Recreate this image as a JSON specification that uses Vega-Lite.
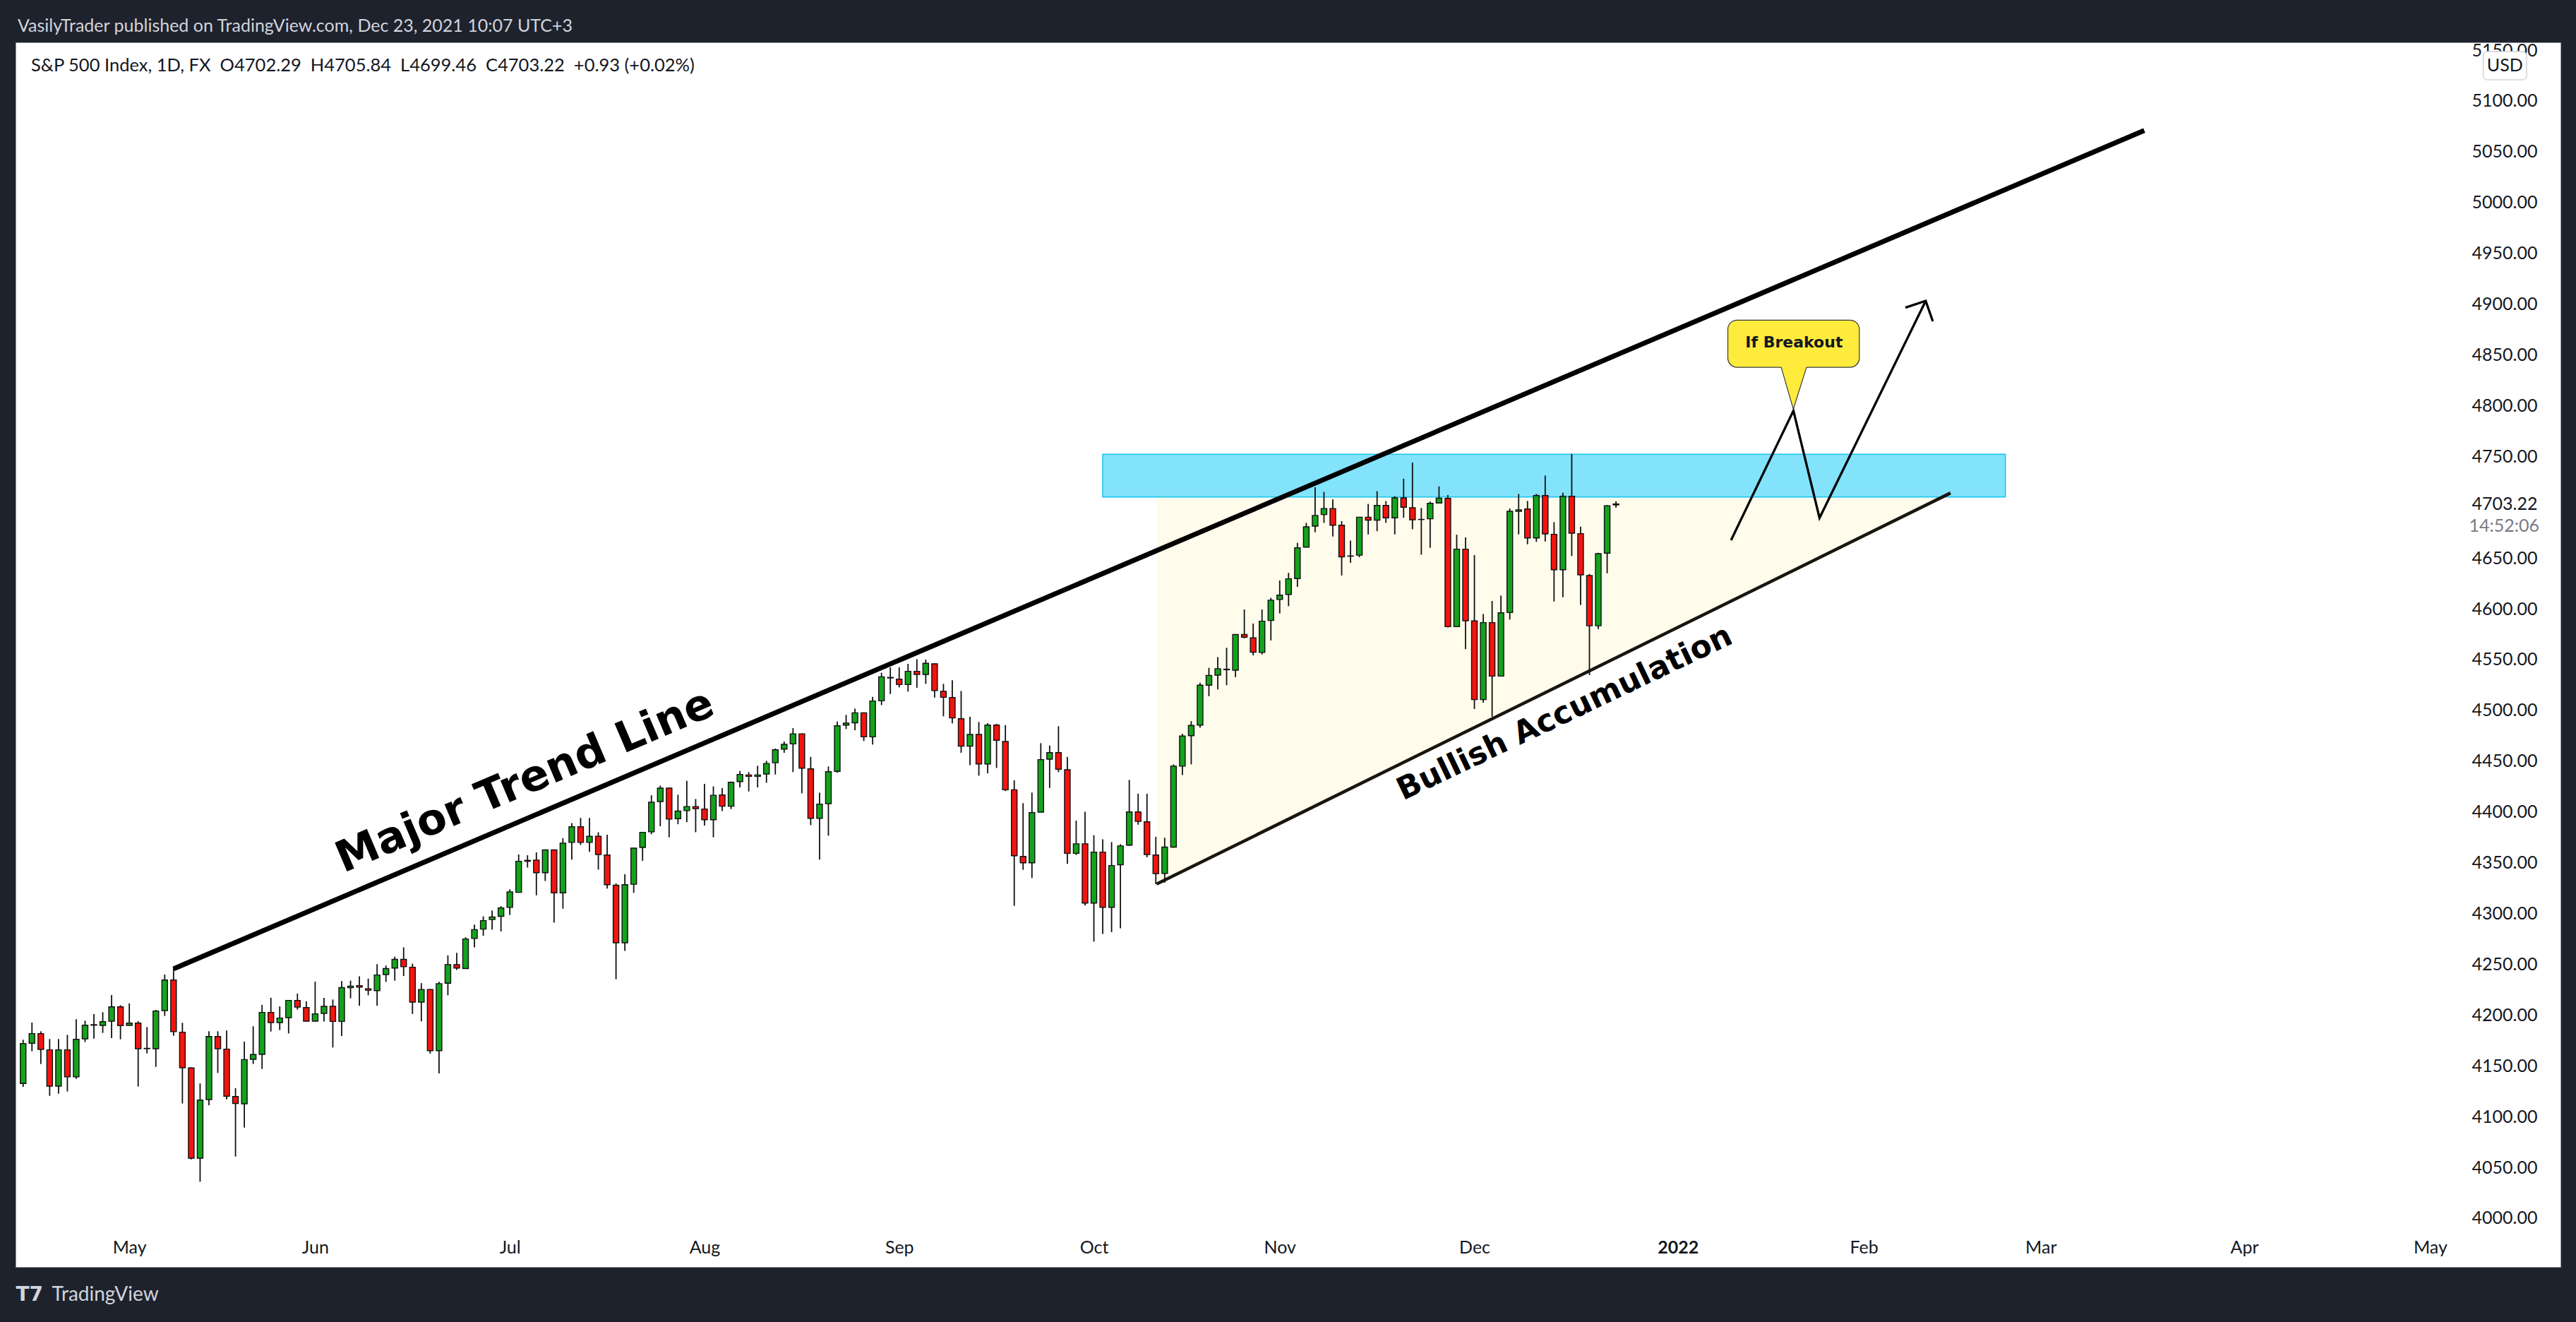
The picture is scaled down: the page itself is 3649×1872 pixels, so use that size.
{
"$schema": "https://vega.github.io/schema/vega-lite/v6.json",
"width": 3605, "height": 1734,
"autosize": {"type": "none"},
"padding": {"left": 22, "top": 60, "right": 22, "bottom": 78},
"background": "#1e222d",
"title": {"text": "VasilyTrader published on TradingView.com, Dec 23, 2021 10:07 UTC+3", "anchor": "start", "frame": "group", "offset": -3, "baseline": "middle", "dx": 3, "font": "Lato", "fontSize": 25, "fontWeight": "normal", "color": "#d1d4dc"},
"config": {"view": {"fill": "#ffffff", "stroke": "#9598a1", "strokeWidth": 1}},
"datasets": {
"ohlc": [
{"i":-12,"o":4132.6,"h":4175.7,"l":4129.3,"c":4172.0},
{"i":-11,"o":4172.2,"h":4192.6,"l":4164.3,"c":4181.7},
{"i":-10,"o":4181.7,"h":4184.0,"l":4151.8,"c":4166.2},
{"i":-9,"o":4165.7,"h":4176.4,"l":4120.5,"c":4130.0},
{"i":-8,"o":4130.0,"h":4176.4,"l":4122.6,"c":4165.7},
{"i":-7,"o":4165.7,"h":4180.5,"l":4124.7,"c":4139.1},
{"i":-6,"o":4139.1,"h":4195.8,"l":4137.2,"c":4176.1},
{"i":-5,"o":4176.6,"h":4194.5,"l":4173.4,"c":4190.0},
{"i":-4,"o":4190.0,"h":4200.9,"l":4176.8,"c":4190.5},
{"i":-3,"o":4189.8,"h":4202.8,"l":4182.4,"c":4193.5},
{"i":-2,"o":4194.0,"h":4219.7,"l":4177.3,"c":4208.1},
{"i":-1,"o":4208.1,"h":4209.7,"l":4176.1,"c":4189.6},
{"i":0,"o":4189.8,"h":4211.4,"l":4189.6,"c":4192.1},
{"i":1,"o":4192.1,"h":4194.0,"l":4129.6,"c":4166.9},
{"i":2,"o":4166.9,"h":4188.2,"l":4162.2,"c":4167.2},
{"i":3,"o":4166.9,"h":4205.1,"l":4149.0,"c":4204.0},
{"i":4,"o":4204.4,"h":4239.9,"l":4199.1,"c":4234.5},
{"i":5,"o":4234.5,"h":4246.4,"l":4179.6,"c":4183.6},
{"i":6,"o":4183.1,"h":4192.4,"l":4112.9,"c":4148.1},
{"i":7,"o":4147.9,"h":4148.5,"l":4057.9,"c":4059.1},
{"i":8,"o":4059.1,"h":4132.6,"l":4035.9,"c":4116.3},
{"i":9,"o":4116.8,"h":4184.0,"l":4111.2,"c":4178.9},
{"i":10,"o":4178.9,"h":4184.0,"l":4143.0,"c":4166.9},
{"i":11,"o":4166.4,"h":4184.7,"l":4117.0,"c":4120.1},
{"i":12,"o":4119.8,"h":4127.9,"l":4060.7,"c":4112.9},
{"i":13,"o":4112.6,"h":4173.8,"l":4089.2,"c":4156.2},
{"i":14,"o":4156.4,"h":4188.9,"l":4151.8,"c":4161.1},
{"i":15,"o":4161.3,"h":4210.0,"l":4146.9,"c":4202.6},
{"i":16,"o":4202.6,"h":4217.0,"l":4183.8,"c":4192.6},
{"i":17,"o":4192.6,"h":4208.6,"l":4185.2,"c":4197.0},
{"i":18,"o":4197.5,"h":4214.6,"l":4181.9,"c":4214.4},
{"i":19,"o":4214.4,"h":4221.1,"l":4205.3,"c":4207.9},
{"i":20,"o":4207.4,"h":4213.5,"l":4193.8,"c":4194.0},
{"i":21,"o":4194.0,"h":4232.9,"l":4193.8,"c":4201.2},
{"i":22,"o":4201.6,"h":4217.0,"l":4193.7,"c":4208.6},
{"i":23,"o":4208.6,"h":4215.3,"l":4168.1,"c":4193.7},
{"i":24,"o":4193.7,"h":4233.4,"l":4179.3,"c":4227.0},
{"i":25,"o":4227.0,"h":4233.9,"l":4216.5,"c":4228.5},
{"i":26,"o":4229.0,"h":4238.1,"l":4209.1,"c":4227.5},
{"i":27,"o":4225.9,"h":4235.9,"l":4219.5,"c":4224.5},
{"i":28,"o":4224.0,"h":4250.1,"l":4209.1,"c":4239.4},
{"i":29,"o":4239.9,"h":4248.8,"l":4232.7,"c":4245.8},
{"i":30,"o":4246.3,"h":4257.5,"l":4233.9,"c":4254.8},
{"i":31,"o":4254.8,"h":4266.7,"l":4238.4,"c":4247.6},
{"i":32,"o":4247.1,"h":4250.6,"l":4201.1,"c":4212.8},
{"i":33,"o":4212.8,"h":4231.4,"l":4193.7,"c":4225.2},
{"i":34,"o":4225.2,"h":4225.8,"l":4161.9,"c":4164.9},
{"i":35,"o":4164.9,"h":4232.7,"l":4142.5,"c":4230.9},
{"i":36,"o":4231.4,"h":4258.7,"l":4219.5,"c":4249.6},
{"i":37,"o":4249.6,"h":4261.2,"l":4244.3,"c":4246.3},
{"i":38,"o":4245.8,"h":4276.6,"l":4245.5,"c":4274.9},
{"i":39,"o":4275.4,"h":4289.0,"l":4266.7,"c":4284.1},
{"i":40,"o":4284.6,"h":4297.2,"l":4278.1,"c":4293.0},
{"i":41,"o":4294.0,"h":4302.9,"l":4284.1,"c":4296.5},
{"i":42,"o":4297.2,"h":4307.2,"l":4282.3,"c":4305.4},
{"i":43,"o":4306.0,"h":4323.8,"l":4298.5,"c":4321.3},
{"i":44,"o":4320.8,"h":4358.1,"l":4320.5,"c":4351.4},
{"i":45,"o":4351.4,"h":4357.3,"l":4345.2,"c":4352.3},
{"i":46,"o":4352.6,"h":4360.1,"l":4317.9,"c":4340.2},
{"i":47,"o":4340.2,"h":4363.0,"l":4332.0,"c":4362.6},
{"i":48,"o":4362.6,"h":4363.0,"l":4291.0,"c":4320.3},
{"i":49,"o":4320.3,"h":4374.2,"l":4304.7,"c":4369.3},
{"i":50,"o":4370.0,"h":4389.1,"l":4353.1,"c":4385.4},
{"i":51,"o":4385.4,"h":4394.1,"l":4367.5,"c":4370.0},
{"i":52,"o":4370.0,"h":4394.1,"l":4360.6,"c":4376.0},
{"i":53,"o":4376.0,"h":4380.0,"l":4343.2,"c":4358.1},
{"i":54,"o":4357.6,"h":4377.5,"l":4324.6,"c":4328.3},
{"i":55,"o":4327.8,"h":4329.5,"l":4235.2,"c":4271.2},
{"i":56,"o":4271.2,"h":4338.7,"l":4263.2,"c":4328.3},
{"i":57,"o":4328.8,"h":4364.5,"l":4320.3,"c":4364.3},
{"i":58,"o":4365.0,"h":4380.2,"l":4351.9,"c":4379.9},
{"i":59,"o":4380.4,"h":4416.4,"l":4378.0,"c":4409.5},
{"i":60,"o":4410.2,"h":4425.9,"l":4385.9,"c":4423.4},
{"i":61,"o":4423.4,"h":4423.8,"l":4375.0,"c":4392.9},
{"i":62,"o":4393.4,"h":4416.9,"l":4387.9,"c":4400.8},
{"i":63,"o":4401.3,"h":4430.6,"l":4389.9,"c":4405.3},
{"i":64,"o":4405.3,"h":4412.7,"l":4380.0,"c":4403.3},
{"i":65,"o":4402.8,"h":4427.6,"l":4386.6,"c":4392.3},
{"i":66,"o":4392.3,"h":4425.1,"l":4375.0,"c":4416.4},
{"i":67,"o":4416.7,"h":4423.4,"l":4400.9,"c":4405.6},
{"i":68,"o":4405.6,"h":4429.9,"l":4402.8,"c":4429.2},
{"i":69,"o":4429.9,"h":4440.3,"l":4424.1,"c":4436.9},
{"i":70,"o":4436.4,"h":4439.2,"l":4420.2,"c":4435.0},
{"i":71,"o":4435.0,"h":4445.4,"l":4424.1,"c":4436.4},
{"i":72,"o":4437.3,"h":4450.3,"l":4428.7,"c":4447.7},
{"i":73,"o":4448.4,"h":4462.4,"l":4436.9,"c":4461.2},
{"i":74,"o":4461.9,"h":4469.3,"l":4458.2,"c":4466.5},
{"i":75,"o":4467.0,"h":4482.5,"l":4439.2,"c":4476.9},
{"i":76,"o":4476.9,"h":4477.3,"l":4418.3,"c":4443.1},
{"i":77,"o":4442.4,"h":4454.2,"l":4387.0,"c":4393.7},
{"i":78,"o":4393.7,"h":4419.0,"l":4353.0,"c":4407.7},
{"i":79,"o":4408.1,"h":4444.7,"l":4376.6,"c":4439.6},
{"i":80,"o":4439.9,"h":4489.0,"l":4438.5,"c":4484.8},
{"i":81,"o":4485.5,"h":4495.5,"l":4481.6,"c":4487.4},
{"i":82,"o":4487.8,"h":4501.7,"l":4480.4,"c":4497.6},
{"i":83,"o":4497.6,"h":4498.0,"l":4469.8,"c":4473.9},
{"i":84,"o":4473.9,"h":4513.3,"l":4466.3,"c":4509.2},
{"i":85,"o":4509.4,"h":4537.0,"l":4505.2,"c":4533.0},
{"i":86,"o":4532.4,"h":4542.3,"l":4516.1,"c":4531.9},
{"i":87,"o":4530.7,"h":4542.3,"l":4522.6,"c":4525.4},
{"i":88,"o":4525.4,"h":4545.8,"l":4518.4,"c":4538.4},
{"i":89,"o":4538.4,"h":4550.4,"l":4522.2,"c":4535.4},
{"i":90,"o":4535.4,"h":4550.0,"l":4526.1,"c":4546.3},
{"i":91,"o":4545.8,"h":4546.2,"l":4512.6,"c":4519.6},
{"i":92,"o":4518.7,"h":4526.1,"l":4494.1,"c":4512.9},
{"i":93,"o":4512.6,"h":4529.6,"l":4487.2,"c":4492.5},
{"i":94,"o":4491.8,"h":4519.1,"l":4458.2,"c":4464.7},
{"i":95,"o":4464.7,"h":4493.6,"l":4446.1,"c":4476.3},
{"i":96,"o":4476.3,"h":4488.5,"l":4435.7,"c":4447.3},
{"i":97,"o":4447.3,"h":4487.4,"l":4438.0,"c":4485.5},
{"i":98,"o":4485.5,"h":4486.7,"l":4443.3,"c":4470.5},
{"i":99,"o":4469.3,"h":4485.5,"l":4420.6,"c":4421.8},
{"i":100,"o":4421.8,"h":4431.1,"l":4307.5,"c":4356.9},
{"i":101,"o":4356.2,"h":4408.6,"l":4343.0,"c":4349.9},
{"i":102,"o":4349.9,"h":4419.0,"l":4334.9,"c":4399.3},
{"i":103,"o":4399.8,"h":4467.7,"l":4399.5,"c":4451.5},
{"i":104,"o":4451.9,"h":4465.4,"l":4423.6,"c":4458.4},
{"i":105,"o":4458.4,"h":4484.4,"l":4439.2,"c":4442.0},
{"i":106,"o":4441.5,"h":4454.2,"l":4348.8,"c":4359.2},
{"i":107,"o":4359.2,"h":4391.5,"l":4357.6,"c":4368.6},
{"i":108,"o":4368.6,"h":4400.2,"l":4307.9,"c":4310.3},
{"i":109,"o":4310.3,"h":4377.1,"l":4272.3,"c":4360.4},
{"i":110,"o":4360.4,"h":4373.1,"l":4279.9,"c":4306.1},
{"i":111,"o":4306.1,"h":4370.3,"l":4281.6,"c":4347.2},
{"i":112,"o":4348.0,"h":4368.2,"l":4285.4,"c":4366.5},
{"i":113,"o":4367.3,"h":4431.5,"l":4366.5,"c":4400.0},
{"i":114,"o":4400.0,"h":4417.9,"l":4387.4,"c":4390.7},
{"i":115,"o":4390.2,"h":4417.9,"l":4355.3,"c":4358.1},
{"i":116,"o":4357.5,"h":4375.5,"l":4328.8,"c":4339.3},
{"i":117,"o":4339.5,"h":4374.6,"l":4330.3,"c":4365.4},
{"i":118,"o":4365.4,"h":4446.8,"l":4364.7,"c":4445.1},
{"i":119,"o":4445.1,"h":4476.9,"l":4436.3,"c":4474.7},
{"i":120,"o":4475.1,"h":4489.4,"l":4446.8,"c":4485.1},
{"i":121,"o":4485.5,"h":4527.2,"l":4482.9,"c":4524.8},
{"i":122,"o":4524.8,"h":4541.9,"l":4514.0,"c":4534.4},
{"i":123,"o":4534.7,"h":4552.4,"l":4520.6,"c":4541.0},
{"i":124,"o":4540.5,"h":4561.6,"l":4524.8,"c":4540.0},
{"i":125,"o":4539.6,"h":4575.0,"l":4532.7,"c":4574.7},
{"i":126,"o":4574.7,"h":4599.3,"l":4570.8,"c":4572.1},
{"i":127,"o":4571.4,"h":4585.5,"l":4554.1,"c":4557.3},
{"i":128,"o":4557.0,"h":4599.3,"l":4555.0,"c":4587.8},
{"i":129,"o":4588.5,"h":4610.8,"l":4568.8,"c":4608.5},
{"i":130,"o":4609.2,"h":4627.9,"l":4595.4,"c":4613.4},
{"i":131,"o":4614.1,"h":4635.4,"l":4602.6,"c":4629.5},
{"i":132,"o":4629.8,"h":4665.0,"l":4621.6,"c":4660.0},
{"i":133,"o":4660.7,"h":4684.6,"l":4660.5,"c":4680.7},
{"i":134,"o":4681.4,"h":4719.7,"l":4675.4,"c":4691.9},
{"i":135,"o":4692.8,"h":4715.1,"l":4684.6,"c":4698.7},
{"i":136,"o":4698.7,"h":4707.6,"l":4671.2,"c":4682.3},
{"i":137,"o":4682.3,"h":4686.3,"l":4632.8,"c":4651.2},
{"i":138,"o":4651.8,"h":4667.2,"l":4645.3,"c":4652.0},
{"i":139,"o":4652.8,"h":4690.5,"l":4650.8,"c":4690.2},
{"i":140,"o":4690.2,"h":4703.3,"l":4673.2,"c":4687.3},
{"i":141,"o":4687.3,"h":4715.8,"l":4676.4,"c":4701.7},
{"i":142,"o":4701.7,"h":4706.0,"l":4684.6,"c":4689.6},
{"i":143,"o":4689.6,"h":4710.9,"l":4673.2,"c":4709.2},
{"i":144,"o":4709.2,"h":4728.0,"l":4689.6,"c":4700.0},
{"i":145,"o":4699.5,"h":4744.0,"l":4678.3,"c":4687.7},
{"i":146,"o":4687.9,"h":4699.3,"l":4653.3,"c":4688.0},
{"i":147,"o":4688.6,"h":4705.6,"l":4660.1,"c":4703.8},
{"i":148,"o":4704.2,"h":4720.5,"l":4704.0,"c":4708.9},
{"i":149,"o":4708.7,"h":4712.0,"l":4581.7,"c":4582.4},
{"i":150,"o":4582.4,"h":4673.0,"l":4582.2,"c":4658.7},
{"i":151,"o":4658.7,"h":4670.3,"l":4560.2,"c":4588.2},
{"i":152,"o":4588.0,"h":4652.9,"l":4501.3,"c":4510.6},
{"i":153,"o":4510.6,"h":4594.9,"l":4507.6,"c":4586.4},
{"i":154,"o":4586.4,"h":4607.7,"l":4493.7,"c":4533.7},
{"i":155,"o":4533.7,"h":4613.0,"l":4533.5,"c":4596.1},
{"i":156,"o":4596.3,"h":4698.8,"l":4589.4,"c":4696.0},
{"i":157,"o":4696.0,"h":4713.1,"l":4673.3,"c":4697.5},
{"i":158,"o":4698.3,"h":4706.2,"l":4663.5,"c":4669.8},
{"i":159,"o":4669.8,"h":4713.1,"l":4665.9,"c":4711.5},
{"i":160,"o":4711.5,"h":4731.2,"l":4666.3,"c":4673.7},
{"i":161,"o":4673.3,"h":4685.3,"l":4607.2,"c":4638.5},
{"i":162,"o":4638.5,"h":4714.3,"l":4611.4,"c":4710.8},
{"i":163,"o":4710.8,"h":4752.5,"l":4652.0,"c":4674.4},
{"i":164,"o":4674.0,"h":4680.9,"l":4603.7,"c":4633.4},
{"i":165,"o":4632.7,"h":4634.3,"l":4534.7,"c":4583.3},
{"i":166,"o":4583.3,"h":4655.2,"l":4580.1,"c":4654.3},
{"i":167,"o":4654.8,"h":4702.2,"l":4635.0,"c":4701.5},
{"i":168,"o":4702.3,"h":4705.8,"l":4699.5,"c":4703.2}
]
},
"layer": [
{"data": {"values": [{"i": 116.1, "top": 4710, "bot": 4329}, {"i": 205.8, "top": 4710, "bot": 4712}]},
 "mark": {"type": "area", "color": "#fffcec", "opacity": 1},
 "encoding": {
   "x": {"field": "i", "type": "quantitative", "scale": {"domain": [-12.458, 274.33], "nice": false, "zero": false},
     "axis": {"orient": "bottom", "grid": false, "domain": false, "ticks": false,
       "values": [0,21,43,65,87,109,130,152,175,196,216,239,260],
       "labelExpr": "['May','Jun','Jul','Aug','Sep','Oct','Nov','Dec','2022','Feb','Mar','Apr','May'][indexof([0,21,43,65,87,109,130,152,175,196,216,239,260], datum.value)]",
       "labelFont": "Lato", "labelFontSize": 25, "labelColor": "#131722",
       "labelFontWeight": {"condition": {"test": "datum.value == 175", "value": "bold"}, "value": "normal"},
       "labelPadding": -28, "labelBaseline": "middle", "labelOverlap": false,
       "title": "TradingView", "titleFont": "Lato", "titleFontSize": 28, "titleFontWeight": "normal", "titleColor": "#d1d4dc",
       "titleX": 51, "titleY": 39, "titleAlign": "left", "titleBaseline": "middle", "titleAngle": 0}},
   "y": {"field": "top", "type": "quantitative", "scale": {"domain": [3952.0, 5157.7], "nice": false, "zero": false},
     "axis": {"orient": "right", "grid": false, "domain": false, "ticks": false,
       "values": [4000,4050,4100,4150,4200,4250,4300,4350,4400,4450,4500,4550,4600,4650,4703.22,4750,4800,4850,4900,4950,5000,5050,5100,5150],
       "format": ".2f", "labelFont": "Lato", "labelFontSize": 25, "labelColor": "#131722",
       "labelAlign": "left", "labelPadding": -126, "labelOverlap": false,
       "title": "T7", "titleFont": "DejaVu Sans", "titleFontWeight": "bold", "titleFontSize": 28, "titleColor": "#d1d4dc", "titleAngle": 0,
       "titleX": -3605, "titleY": 1773, "titleAlign": "left", "titleBaseline": "middle"}},
   "y2": {"field": "bot"}}},
{"data": {"values": [{"i1": 110, "i2": 212, "p1": 4710, "p2": 4752.1}]},
 "mark": {"type": "rect", "fill": "#82e3fb", "stroke": "#14c4f0", "strokeWidth": 1.5},
 "encoding": {"x": {"field": "i1", "type": "quantitative", "scale": {"domain": [-12.458, 274.33], "nice": false, "zero": false}}, "x2": {"field": "i2"},
   "y": {"field": "p1", "type": "quantitative", "scale": {"domain": [3952.0, 5157.7], "nice": false, "zero": false}}, "y2": {"field": "p2"}}},
{"data": {"name": "ohlc"},
 "mark": {"type": "rule", "color": "#111111", "strokeWidth": 1.8},
 "encoding": {"x": {"field": "i", "type": "quantitative", "scale": {"domain": [-12.458, 274.33], "nice": false, "zero": false}},
   "y": {"field": "l", "type": "quantitative", "scale": {"domain": [3952.0, 5157.7], "nice": false, "zero": false}},
   "y2": {"field": "h"}}},
{"data": {"name": "ohlc"},
 "mark": {"type": "bar", "size": 8, "stroke": "#111111", "strokeWidth": 1.4},
 "encoding": {"x": {"field": "i", "type": "quantitative", "scale": {"domain": [-12.458, 274.33], "nice": false, "zero": false}},
   "y": {"field": "o", "type": "quantitative", "scale": {"domain": [3952.0, 5157.7], "nice": false, "zero": false}}, "y2": {"field": "c"},
   "fill": {"condition": {"test": "datum.c >= datum.o", "value": "#13a31c"}, "value": "#f4140e"}}},
{"data": {"values": [{"i": 5.0, "p": 4245.5}, {"i": 227.7, "p": 5071}]},
 "mark": {"type": "line", "color": "#000000", "strokeWidth": 7, "strokeCap": "butt"},
 "encoding": {"x": {"field": "i", "type": "quantitative", "scale": {"domain": [-12.458, 274.33], "nice": false, "zero": false}},
   "y": {"field": "p", "type": "quantitative", "scale": {"domain": [3952.0, 5157.7], "nice": false, "zero": false}}}},
{"data": {"values": [{"i": 116.1, "p": 4329}, {"i": 205.8, "p": 4714}]},
 "mark": {"type": "line", "color": "#17160f", "strokeWidth": 4.5, "strokeCap": "butt"},
 "encoding": {"x": {"field": "i", "type": "quantitative", "scale": {"domain": [-12.458, 274.33], "nice": false, "zero": false}},
   "y": {"field": "p", "type": "quantitative", "scale": {"domain": [3952.0, 5157.7], "nice": false, "zero": false}}}},
{"data": {"values": [{"i": 181.0, "p": 4667.5}, {"i": 188.05, "p": 4795.0}, {"i": 191.0, "p": 4689.5}, {"i": 203.0, "p": 4903.2}]},
 "mark": {"type": "line", "color": "#000000", "strokeWidth": 3.3, "strokeJoin": "miter"},
 "encoding": {"x": {"field": "i", "type": "quantitative", "scale": {"domain": [-12.458, 274.33], "nice": false, "zero": false}},
   "y": {"field": "p", "type": "quantitative", "scale": {"domain": [3952.0, 5157.7], "nice": false, "zero": false}}}},
{"data": {"values": [{"i": 200.7, "p": 4896.5}, {"i": 203.0, "p": 4903.2}, {"i": 203.8, "p": 4883.0}]},
 "mark": {"type": "line", "color": "#000000", "strokeWidth": 3.3, "strokeJoin": "miter"},
 "encoding": {"x": {"field": "i", "type": "quantitative", "scale": {"domain": [-12.458, 274.33], "nice": false, "zero": false}},
   "y": {"field": "p", "type": "quantitative", "scale": {"domain": [3952.0, 5157.7], "nice": false, "zero": false}}}},
{"data": {"values": [{"i1": 180.64, "i2": 195.5, "p1": 4837.8, "p2": 4884.2}]},
 "mark": {"type": "rect", "fill": "#ffeb3b", "stroke": "#3b3b3b", "strokeWidth": 1.2, "cornerRadius": 13},
 "encoding": {"x": {"field": "i1", "type": "quantitative", "scale": {"domain": [-12.458, 274.33], "nice": false, "zero": false}}, "x2": {"field": "i2"},
   "y": {"field": "p1", "type": "quantitative", "scale": {"domain": [3952.0, 5157.7], "nice": false, "zero": false}}, "y2": {"field": "p2"}}},
{"data": {"values": [{"i": 186.67, "t": 4839.4, "b": 4837.8}, {"i": 188.04, "t": 4839.4, "b": 4796.6}, {"i": 189.53, "t": 4839.4, "b": 4837.8}]},
 "mark": {"type": "area", "color": "#ffeb3b", "opacity": 1},
 "encoding": {"x": {"field": "i", "type": "quantitative", "scale": {"domain": [-12.458, 274.33], "nice": false, "zero": false}},
   "y": {"field": "t", "type": "quantitative", "scale": {"domain": [3952.0, 5157.7], "nice": false, "zero": false}}, "y2": {"field": "b"}}},
{"data": {"values": [{"i": 186.67, "p": 4837.8}, {"i": 188.04, "p": 4796.6}, {"i": 189.53, "p": 4837.8}]},
 "mark": {"type": "line", "color": "#3b3b3b", "strokeWidth": 1.2},
 "encoding": {"x": {"field": "i", "type": "quantitative", "scale": {"domain": [-12.458, 274.33], "nice": false, "zero": false}},
   "y": {"field": "p", "type": "quantitative", "scale": {"domain": [3952.0, 5157.7], "nice": false, "zero": false}}}},
{"data": {"values": [{"i": 188.12, "p": 4862.2, "txt": "If Breakout"}]},
 "mark": {"type": "text", "font": "DejaVu Sans", "fontWeight": "bold", "fontSize": 22, "color": "#131722", "align": "center", "baseline": "middle"},
 "encoding": {"x": {"field": "i", "type": "quantitative", "scale": {"domain": [-12.458, 274.33], "nice": false, "zero": false}},
   "y": {"field": "p", "type": "quantitative", "scale": {"domain": [3952.0, 5157.7], "nice": false, "zero": false}}, "text": {"field": "txt"}}},
{"data": {"values": [{"i": 45.3, "p": 4418.2, "txt": "Major Trend Line"}]},
 "mark": {"type": "text", "font": "DejaVu Sans", "fontWeight": "bold", "fontSize": 61, "color": "#000000", "align": "center", "baseline": "alphabetic", "angle": -23.07},
 "encoding": {"x": {"field": "i", "type": "quantitative", "scale": {"domain": [-12.458, 274.33], "nice": false, "zero": false}},
   "y": {"field": "p", "type": "quantitative", "scale": {"domain": [3952.0, 5157.7], "nice": false, "zero": false}}, "text": {"field": "txt"}}},
{"data": {"values": [{"i": 162.66, "p": 4488.9, "txt": "Bullish Accumulation"}]},
 "mark": {"type": "text", "font": "DejaVu Sans", "fontWeight": "bold", "fontSize": 44, "color": "#000000", "align": "center", "baseline": "alphabetic", "angle": -25.5},
 "encoding": {"x": {"field": "i", "type": "quantitative", "scale": {"domain": [-12.458, 274.33], "nice": false, "zero": false}},
   "y": {"field": "p", "type": "quantitative", "scale": {"domain": [3952.0, 5157.7], "nice": false, "zero": false}}, "text": {"field": "txt"}}},
{"data": {"values": [{"i": -11.106, "p": 5134.8, "txt": "S&P 500 Index, 1D, FX \u00a0O4702.29 \u00a0H4705.84 \u00a0L4699.46 \u00a0C4703.22 \u00a0+0.93 (+0.02%)"}]},
 "mark": {"type": "text", "font": "Lato", "fontSize": 25.5, "color": "#131722", "align": "left", "baseline": "middle"},
 "encoding": {"x": {"field": "i", "type": "quantitative", "scale": {"domain": [-12.458, 274.33], "nice": false, "zero": false}},
   "y": {"field": "p", "type": "quantitative", "scale": {"domain": [3952.0, 5157.7], "nice": false, "zero": false}}, "text": {"field": "txt"}}},
{"data": {"values": [{"i": 264.4, "p": 4681.4, "txt": "14:52:06"}]},
 "mark": {"type": "text", "font": "Lato", "fontSize": 25, "color": "#787b86", "align": "left", "baseline": "middle"},
 "encoding": {"x": {"field": "i", "type": "quantitative", "scale": {"domain": [-12.458, 274.33], "nice": false, "zero": false}},
   "y": {"field": "p", "type": "quantitative", "scale": {"domain": [3952.0, 5157.7], "nice": false, "zero": false}}, "text": {"field": "txt"}}},
{"data": {"values": [{"i1": 266.0, "i2": 270.9, "p1": 5120.9, "p2": 5148.7}]},
 "mark": {"type": "rect", "fill": "#ffffff", "stroke": "#d1d4dc", "strokeWidth": 1.5, "cornerRadius": 6},
 "encoding": {"x": {"field": "i1", "type": "quantitative", "scale": {"domain": [-12.458, 274.33], "nice": false, "zero": false}}, "x2": {"field": "i2"},
   "y": {"field": "p1", "type": "quantitative", "scale": {"domain": [3952.0, 5157.7], "nice": false, "zero": false}}, "y2": {"field": "p2"}}},
{"data": {"values": [{"i": 268.45, "p": 5134.8, "txt": "USD"}]},
 "mark": {"type": "text", "font": "Lato", "fontSize": 25, "color": "#131722", "align": "center", "baseline": "middle"},
 "encoding": {"x": {"field": "i", "type": "quantitative", "scale": {"domain": [-12.458, 274.33], "nice": false, "zero": false}},
   "y": {"field": "p", "type": "quantitative", "scale": {"domain": [3952.0, 5157.7], "nice": false, "zero": false}}, "text": {"field": "txt"}}}
]
}
